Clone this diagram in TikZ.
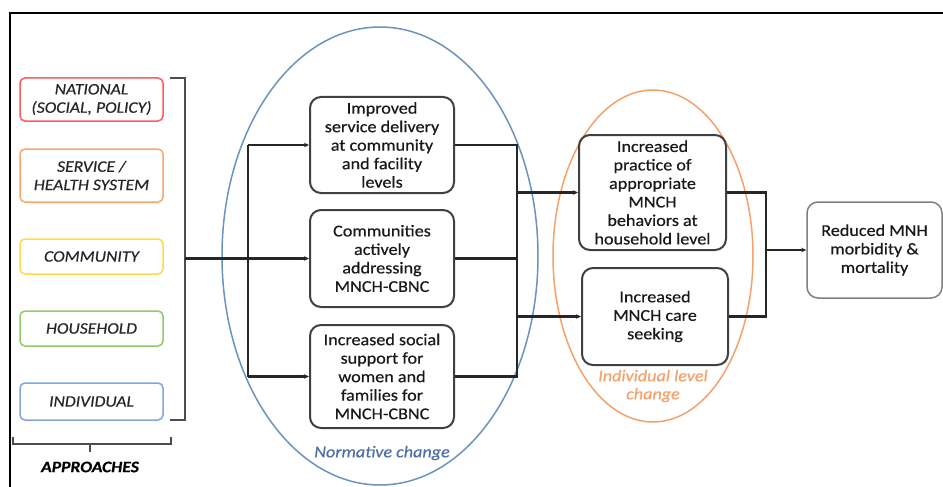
\documentclass[tikz,border=0pt]{standalone}
\usepackage{fontspec}
\setmainfont{Carlito}[FakeStretch=1.1, FakeBold=0.5]
\usetikzlibrary{shapes.geometric,arrows.meta}

\definecolor{natred}{HTML}{FF5B5B}
\definecolor{svcorange}{HTML}{F9A66C}
\definecolor{comyellow}{HTML}{FFD94A}
\definecolor{hhgreen}{HTML}{92C96A}
\definecolor{indblue}{HTML}{7FA6E0}
\definecolor{normblue}{HTML}{6A93BD}
\definecolor{normtext}{HTML}{4F6EA8}
\definecolor{indorange}{HTML}{F4A26A}

\begin{document}
\begin{tikzpicture}[x=1pt, y=-1pt,
    level/.style={rectangle, draw, line width=1.5pt, rounded corners=5pt, minimum width=143pt, inner sep=1pt, align=center, font=\fontsize{16}{18.3}\selectfont\itshape, text=black!85},
    change/.style={rectangle, draw=black!75, line width=2pt, rounded corners=11pt, minimum width=144pt, inner sep=1pt, align=center, font=\fontsize{16.5}{18.5}\selectfont, text=black!90},
    zone/.style={ellipse, line width=1.5pt, inner sep=0pt},
    link/.style={line width=2.2pt, draw=black!85},
    arrow/.style={link, -{Stealth[length=5pt, width=4.5pt]}}
]
    \useasboundingbox (0,0) rectangle (943,487);

    % Frame
    \draw[line width=2.5pt] (10,487) -- (10,13) -- (943,13);

    % Zones
    \node[zone, draw=normblue, minimum width=316pt, minimum height=458pt] (normzone) at (380,256) {};
    \node[zone, draw=indorange, minimum width=200pt, minimum height=332pt] (indzone) at (653,256) {};
    \node[font=\fontsize{16.5}{18}\selectfont\itshape, text=normtext] (normlabel) at (382,453) {Normative change};
    \node[font=\fontsize{16.5}{18}\selectfont\itshape, text=indorange, align=center] (indlabel) at (653,386) {Individual level\\change};

    % Approaches
    \node[level, draw=natred, minimum height=43pt] (national) at (91.5,99.5) {NATIONAL\\(SOCIAL, POLICY)};
    \node[level, draw=svcorange, minimum height=53pt] (service) at (91.5,175.5) {SERVICE /\\HEALTH SYSTEM};
    \node[level, draw=comyellow, minimum height=35pt] (community) at (91.5,256.5) {COMMUNITY};
    \node[level, draw=hhgreen, minimum height=35pt] (household) at (91.5,328.5) {HOUSEHOLD};
    \node[level, draw=indblue, minimum height=37pt] (individual) at (91.5,401.5) {INDIVIDUAL};

    % Brackets
    \coordinate (brk) at (185,258.5);
    \draw[link, line width=1.8pt, draw=black!70] (170,78) -- (185,78) -- (185,420) -- (170,420);
    \draw[link, line width=1.8pt, draw=black!70] (13,437) -- (13,444) -- (171,444) -- (171,437);
    \draw[link, line width=1.8pt, draw=black!70] (90,444) -- (90,452);
    \node[font=\fontsize{16}{17}\selectfont\bfseries\itshape] (approaches) at (90,467) {APPROACHES};

    % Normative change
    \node[change, minimum height=96pt] (svc) at (382,145) {Improved\\service delivery\\at community\\and facility\\levels};
    \node[change, minimum height=97pt] (comm) at (382,258.5) {Communities\\actively\\addressing\\MNCH-CBNC};
    \node[change, minimum height=103pt] (soc) at (382,376.5) {Increased social\\support for\\women and\\families for\\MNCH-CBNC};

    % Individual level change
    \node[change, minimum width=147pt, minimum height=115pt] (practice) at (652.5,192.5) {Increased\\practice of\\appropriate\\MNCH\\behaviors at\\household level};
    \node[change, minimum width=146pt, minimum height=97pt] (seeking) at (655,316.5) {Increased\\MNCH care\\seeking};

    % Outcome
    \node[change, draw=black!50, line width=1.5pt, minimum width=135pt, minimum height=96pt] (outcome) at (874.5,250) {Reduced MNH\\morbidity \&\\mortality};

    % Arrows
    \coordinate (split) at (248,258.5);
    \coordinate (merge) at (517,258.5);
    \coordinate (merge2) at (766,250);
    \draw[arrow] (brk) -- (comm);
    \draw[link] (split |- svc) -- (split |- soc);
    \draw[arrow] (split |- svc) -- (svc);
    \draw[arrow] (split |- soc) -- (soc);
    \draw[link] (svc) -- (svc -| merge) -- (soc -| merge) -- (soc);
    \draw[link] (comm) -- (merge);
    \draw[arrow] (merge |- practice) -- (practice);
    \draw[arrow] (merge |- seeking) -- (seeking);
    \draw[link] (practice) -- (practice -| merge2) -- (seeking -| merge2) -- (seeking);
    \draw[arrow] (merge2) -- (outcome);
\end{tikzpicture}
\end{document}
